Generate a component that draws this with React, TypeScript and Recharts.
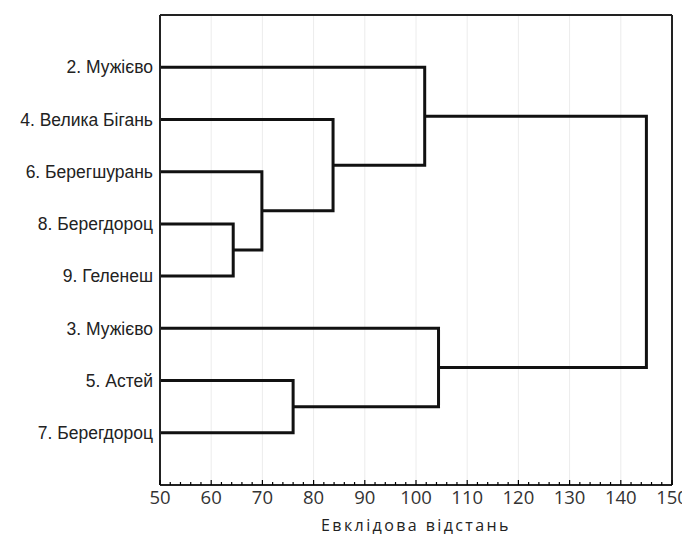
import React from 'react';
import { ComposedChart, Line, XAxis, YAxis, ReferenceLine, Label } from 'recharts';

// leaves, top to bottom
const leafNames = [
  '2. Мужієво',
  '4. Велика Бігань',
  '6. Берегшурань',
  '8. Берегдороц',
  '9. Геленеш',
  '3. Мужієво',
  '5. Астей',
  '7. Берегдороц',
];

// joins: node ids 0..7 are leaves, each join creates the next id (8, 9, ...)
const joinLeft = [3, 2, 1, 0, 6, 5, 11];
const joinRight = [4, 8, 9, 10, 7, 12, 13];
const joinHeight = [64.3, 69.9, 83.8, 101.7, 76.0, 104.4, 145.0];

const xTicks = [50, 60, 70, 80, 90, 100, 110, 120, 130, 140, 150];
const xMinorTicks = [50, 52, 54, 56, 58, 60, 62, 64, 66, 68, 70, 72, 74, 76, 78, 80, 82, 84, 86, 88, 90, 92, 94, 96, 98, 100, 102, 104, 106, 108, 110, 112, 114, 116, 118, 120, 122, 124, 126, 128, 130, 132, 134, 136, 138, 140, 142, 144, 146, 148, 150];
const leafTicks = [1, 2, 3, 4, 5, 6, 7, 8];

const X_MIN = 50;
const Y_MAX = leafNames.length + 1;

// build node positions + link paths from the joins
const nodeX: number[] = leafNames.map(() => X_MIN);
const nodeY: number[] = leafNames.map((_, i) => leafNames.length - i);
const links = joinLeft.map((a, i) => {
  const b = joinRight[i];
  const h = joinHeight[i];
  const pts = [
    { x: nodeX[a], y: nodeY[a] },
    { x: h, y: nodeY[a] },
    { x: h, y: nodeY[b] },
    { x: nodeX[b], y: nodeY[b] },
  ];
  nodeX.push(h);
  nodeY.push((nodeY[a] + nodeY[b]) / 2);
  return pts;
});

const BottomTick = (props: any) => {
  const { x, y, payload } = props;
  const major = payload.value % 10 === 0;
  return (
    <g>
      <line x1={x} x2={x} y1={y} y2={y - (major ? 5 : 3)} stroke="#000" strokeWidth={1.2} />
      {major && (
        <text x={x} y={y + 19} textAnchor="middle" fill="#333" fontSize={18.5} fontFamily="'Open Sans', sans-serif">
          {payload.value}
        </text>
      )}
    </g>
  );
};

const TopTick = (props: any) => {
  const { x, y, payload } = props;
  const major = payload.value % 10 === 0;
  return <line x1={x} x2={x} y1={y} y2={y + (major ? 5 : 3)} stroke="#000" strokeWidth={1.2} />;
};

export default function App() {
  return (
    <ComposedChart width={682} height={529} margin={{ top: 0, right: 0, bottom: 0, left: 0 }}>
      <XAxis
        dataKey="x"
        type="number"
        domain={[50, 150]}
        ticks={xMinorTicks}
        interval={0}
        tickSize={0}
        tickMargin={0}
        tickLine={false}
        tick={<BottomTick />}
        height={52}
        axisLine={{ stroke: '#222', strokeWidth: 2 }}
      >
        <Label
          value="Евклідова відстань"
          position="insideBottom"
          offset={6}
          style={{ fontFamily: "'Open Sans', sans-serif", fontSize: 16, letterSpacing: 2.4, fill: '#222' }}
        />
      </XAxis>
      <XAxis
        xAxisId="top"
        orientation="top"
        dataKey="x"
        type="number"
        domain={[50, 150]}
        ticks={xMinorTicks}
        interval={0}
        tickSize={0}
        tickMargin={0}
        tickLine={false}
        tick={<TopTick />}
        height={7}
        axisLine={{ stroke: '#222', strokeWidth: 2 }}
      />
      <YAxis
        dataKey="y"
        type="number"
        domain={[0, Y_MAX]}
        ticks={leafTicks}
        interval={0}
        width={152}
        tickLine={false}
        tickSize={0}
        tickMargin={7}
        tickFormatter={(v: number) => leafNames[leafNames.length - v] ?? ''}
        tick={{ fill: '#222', fontSize: 17.5, fontFamily: "'Liberation Sans', Arial, sans-serif" }}
        axisLine={{ stroke: '#222', strokeWidth: 2 }}
      />
      <YAxis
        yAxisId="right"
        orientation="right"
        type="number"
        domain={[0, Y_MAX]}
        ticks={leafTicks}
        interval={0}
        width={18}
        tick={false}
        tickSize={-4}
        tickLine={{ stroke: '#000' }}
        axisLine={{ stroke: '#222', strokeWidth: 2 }}
      />
      {xTicks.slice(1, -1).map((v) => (
        <ReferenceLine key={v} x={v} stroke="#ececec" strokeWidth={1} />
      ))}
      {links.map((pts, i) => (
        <Line
          key={i}
          data={pts}
          dataKey="y"
          type="linear"
          stroke="#111"
          strokeWidth={3}
          dot={false}
          activeDot={false}
          isAnimationActive={false}
          strokeLinejoin="miter"
        />
      ))}
    </ComposedChart>
  );
}
